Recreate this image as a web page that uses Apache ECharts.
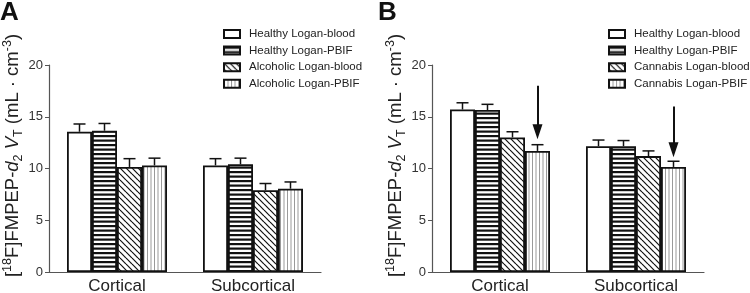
<!DOCTYPE html>
<html>
<head>
<meta charset="utf-8">
<script src="https://cdn.jsdelivr.net/npm/echarts@6/dist/echarts.min.js"></script>
<style>
  html, body { margin: 0; padding: 0; background: #fff; }
  #chart { width: 750px; height: 293px; }
</style>
</head>
<body>
<div id="chart"></div>
<script>
const categories = ['Cortical', 'Subcortical'];
const yMin = 0, yMax = 20, yStep = 5;

// panel A: healthy vs alcoholic (mean, SEM)
const namesA = ['Healthy Logan-blood', 'Healthy Logan-PBIF', 'Alcoholic Logan-blood', 'Alcoholic Logan-PBIF'];
const healthyBloodA = [13.55, 10.3];
const healthyPbifA = [13.65, 10.4];
const alcoBloodA = [10.15, 7.9];
const alcoPbifA = [10.3, 8.05];
const semA = [[0.75, 0.65], [0.7, 0.6], [0.8, 0.65], [0.7, 0.65]];

// panel B: healthy vs cannabis
const namesB = ['Healthy Logan-blood', 'Healthy Logan-PBIF', 'Cannabis Logan-blood', 'Cannabis Logan-PBIF'];
const healthyBloodB = [15.7, 12.15];
const healthyPbifB = [15.65, 12.15];
const cannBloodB = [13.0, 11.2];
const cannPbifB = [11.7, 10.15];
const semB = [[0.65, 0.6], [0.55, 0.55], [0.55, 0.5], [0.6, 0.55]];

// arrows over the cannabis PBIF bars: [start, end of shaft (arrow head centre)]
const arrowCortical = [18.0, 13.55];
const arrowSubcortical = [16.0, 11.8];

const BAR_W = 25;
const FONT = '"Liberation Sans", Arial, sans-serif';

function pattern(kind) {
  const c = document.createElement('canvas');
  const ctx = c.getContext('2d');
  if (kind === 'h') {
    c.width = 4; c.height = 9;
    ctx.fillStyle = '#fff'; ctx.fillRect(0, 0, 4, 9);
    ctx.fillStyle = '#111';
    ctx.fillRect(0, 0, 4, 2.2); ctx.fillRect(0, 4.5, 4, 2.2);
  } else if (kind === 'd') {
    c.width = 6; c.height = 6;
    ctx.fillStyle = '#fff'; ctx.fillRect(0, 0, 6, 6);
    ctx.strokeStyle = '#111'; ctx.lineWidth = 1.2;
    for (let k = -1; k <= 1; k++) {
      ctx.beginPath(); ctx.moveTo(0, k * 6); ctx.lineTo(6, 6 + k * 6); ctx.stroke();
    }
  } else if (kind === 'v') {
    c.width = 7; c.height = 2;
    ctx.fillStyle = '#fff'; ctx.fillRect(0, 0, 7, 2);
    ctx.fillStyle = '#999';
    ctx.fillRect(0, 0, 1, 2); ctx.fillRect(3.5, 0, 1, 2);
  } else {
    c.width = 2; c.height = 2;
    ctx.fillStyle = '#fff'; ctx.fillRect(0, 0, 2, 2);
  }
  return { image: c, repeat: 'repeat' };
}
const fills = [pattern('w'), pattern('h'), pattern('d'), pattern('v')];

function barSeries(name, data, k, g) {
  return {
    type: 'bar', name: name, data: data,
    xAxisIndex: g, yAxisIndex: g,
    barWidth: BAR_W, barGap: '0%',
    itemStyle: { color: fills[k], borderColor: '#111', borderWidth: 1.8 },
    silent: true
  };
}

function errSeries(values, sems, k, g) {
  return {
    type: 'custom', name: 'err' + g + k,
    xAxisIndex: g, yAxisIndex: g, silent: true,
    data: values.map((v, i) => [i, v, v + sems[i]]),
    encode: { x: 0, y: [1, 2] },
    renderItem: function (params, api) {
      const base = api.coord([api.value(0), api.value(1)]);
      const top = api.coord([api.value(0), api.value(2)]);
      const x = base[0] + (k - 1.5) * BAR_W;
      const st = { stroke: '#111', lineWidth: 1.5 };
      return {
        type: 'group',
        children: [
          { type: 'line', shape: { x1: x, y1: base[1], x2: x, y2: top[1] }, style: st },
          { type: 'line', shape: { x1: x - 6, y1: top[1], x2: x + 6, y2: top[1] }, style: st }
        ]
      };
    }
  };
}

function xAxis(g) {
  return {
    type: 'category', gridIndex: g, data: categories,
    axisLine: { lineStyle: { color: '#555', width: 1.2 } },
    axisTick: { alignWithLabel: true, length: 4, lineStyle: { color: '#555' } },
    axisLabel: { fontSize: 17, color: '#222', margin: 6, fontFamily: FONT }
  };
}

const yName = '[{sup|18}F]FMPEP-{i|d}{sub|2} {i|V}{sub|T} (mL · cm{sup|-3})';
function yAxis(g) {
  return {
    type: 'value', gridIndex: g, min: yMin, max: yMax, interval: yStep,
    splitLine: { show: false },
    axisLine: { show: true, lineStyle: { color: '#555', width: 1.2 } },
    axisTick: { show: true, length: 4, lineStyle: { color: '#555' } },
    axisLabel: { fontSize: 13, color: '#333', margin: 6, fontFamily: FONT },
    name: yName, nameLocation: 'middle', nameRotate: 90, nameGap: 23,
    nameTextStyle: {
      fontSize: 18.5, color: '#222', fontFamily: FONT, lineHeight: 24,
      padding: [0, 0, 0, 26],
      rich: {
        sup: { fontSize: 12.5, verticalAlign: 'top', color: '#222', fontFamily: FONT, lineHeight: 24 },
        sub: { fontSize: 12.5, verticalAlign: 'bottom', color: '#222', fontFamily: FONT, lineHeight: 24 },
        i: { fontSize: 18.5, fontStyle: 'italic', color: '#222', fontFamily: FONT, lineHeight: 24 }
      }
    }
  };
}

function legend(names, left) {
  return {
    data: names, orient: 'vertical', left: left, top: 28, padding: 0,
    itemWidth: 16, itemHeight: 8, itemGap: 4.6, icon: 'rect', selectedMode: false,
    textStyle: { fontSize: 11.5, color: '#222', fontFamily: FONT, padding: [0, 0, 0, 4] }
  };
}

const option = {
  animation: false,
  title: [
    { text: 'A', left: 0, top: 0, padding: 0, textStyle: { fontSize: 26, fontWeight: 'bold', color: '#111', fontFamily: FONT } },
    { text: 'B', left: 378, top: 0, padding: 0, textStyle: { fontSize: 26, fontWeight: 'bold', color: '#111', fontFamily: FONT } }
  ],
  legend: [legend(namesA, 223), legend(namesB, 608)],
  grid: [
    { left: 49, top: 65, width: 272, height: 207, outerBoundsMode: 'none', containLabel: false },
    { left: 432, top: 65, width: 272, height: 207, outerBoundsMode: 'none', containLabel: false }
  ],
  xAxis: [xAxis(0), xAxis(1)],
  yAxis: [yAxis(0), yAxis(1)],
  series: [
    barSeries(namesA[0], healthyBloodA, 0, 0),
    barSeries(namesA[1], healthyPbifA, 1, 0),
    barSeries(namesA[2], alcoBloodA, 2, 0),
    barSeries(namesA[3], alcoPbifA, 3, 0),
    errSeries(healthyBloodA, semA[0], 0, 0),
    errSeries(healthyPbifA, semA[1], 1, 0),
    errSeries(alcoBloodA, semA[2], 2, 0),
    errSeries(alcoPbifA, semA[3], 3, 0),
    barSeries(namesB[0], healthyBloodB, 0, 1),
    barSeries(namesB[1], healthyPbifB, 1, 1),
    barSeries(namesB[2], cannBloodB, 2, 1),
    Object.assign(barSeries(namesB[3], cannPbifB, 3, 1), {
      markLine: {
        silent: true, symbol: ['none', 'triangle'], symbolSize: [10, 15],
        label: { show: false },
        lineStyle: { color: '#111', width: 2, type: 'solid' },
        data: [
          [{ coord: [categories[0], arrowCortical[0]] }, { coord: [categories[0], arrowCortical[1]] }],
          [{ coord: [categories[1], arrowSubcortical[0]] }, { coord: [categories[1], arrowSubcortical[1]] }]
        ]
      }
    }),
    errSeries(healthyBloodB, semB[0], 0, 1),
    errSeries(healthyPbifB, semB[1], 1, 1),
    errSeries(cannBloodB, semB[2], 2, 1),
    errSeries(cannPbifB, semB[3], 3, 1)
  ]
};

const chart = echarts.init(document.getElementById('chart'));
chart.setOption(option);
</script>
</body>
</html>
